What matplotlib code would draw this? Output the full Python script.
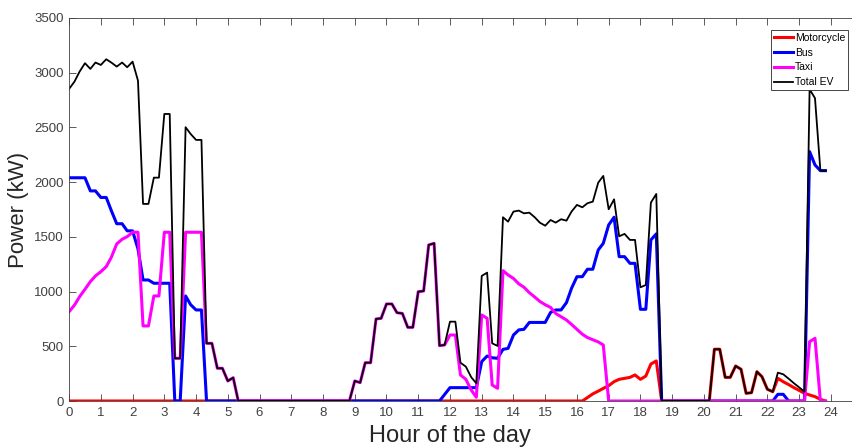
import matplotlib
matplotlib.use('Agg')
import matplotlib.pyplot as plt

# 10-minute samples (hour, kW)
moto_t = [0, 16.17, 16.5, 16.67, 16.83, 17.0, 17.17, 17.33, 17.5, 17.67, 17.83, 18.0, 18.17,
          18.33, 18.5, 18.67, 20.17, 20.33, 20.5, 20.67, 20.83, 21.0, 21.17, 21.33, 21.5,
          21.67, 21.83, 22.0, 22.17, 22.33, 22.5, 22.67, 22.83, 23.0, 23.17, 23.33, 23.5,
          23.67, 23.83]
moto_kw = [0, 0, 65, 90, 115, 140, 177, 198, 207, 216, 238, 198, 228,
           338, 366, 0, 0, 473, 473, 216, 216, 320, 290, 70, 76,
           268, 222, 107, 85, 207, 176, 150, 123, 97, 70, 55, 40,
           15, 0]

bus_t = [0, 0.5, 0.67, 0.83, 1.0, 1.17, 1.33, 1.5, 1.67, 1.83, 2.0, 2.17, 2.33, 2.5, 2.67,
         3.17, 3.33, 3.5, 3.67, 3.83, 4.0, 4.17, 4.33, 11.67, 12.0, 12.83, 13.0, 13.17,
         13.33, 13.5, 13.67, 13.83, 14.0, 14.17, 14.33, 14.5, 15.0, 15.17, 15.33, 15.5,
         15.67, 15.83, 16.0, 16.17, 16.33, 16.5, 16.67, 16.83, 17.0, 17.17, 17.33, 17.5,
         17.67, 17.83, 18.0, 18.17, 18.33, 18.5, 18.67, 22.17, 22.33, 22.5, 22.67, 23.17,
         23.33, 23.5, 23.67, 23.83]
bus_kw = [2040, 2040, 1920, 1920, 1860, 1860, 1740, 1620, 1620, 1555, 1555, 1390, 1106, 1106, 1076,
          1076, 0, 0, 960, 880, 832, 832, 0, 0, 122, 122, 360, 411,
          395, 390, 472, 481, 603, 650, 655, 718, 718, 810, 832, 832,
          899, 1030, 1136, 1136, 1204, 1204, 1380, 1441, 1609, 1679, 1319, 1319,
          1258, 1258, 838, 838, 1472, 1527, 0, 0, 61, 61, 0, 0,
          2279, 2157, 2105, 2105]

taxi_t = [0, 0.17, 0.33, 0.5, 0.67, 0.83, 1.0, 1.17, 1.33, 1.5, 1.67, 1.83, 2.0, 2.17, 2.33,
          2.5, 2.67, 2.83, 3.0, 3.17, 3.33, 3.5, 3.67, 4.17, 4.33, 4.5, 4.67, 4.83, 5.0,
          5.17, 5.33, 8.83, 9.0, 9.17, 9.33, 9.5, 9.67, 9.83, 10.0, 10.17, 10.33, 10.5,
          10.67, 10.83, 11.0, 11.17, 11.33, 11.5, 11.67, 11.83, 12.0, 12.17, 12.33, 12.5,
          12.67, 12.83, 13.0, 13.17, 13.33, 13.5, 13.67, 13.83, 14.0, 14.17, 14.33, 14.5,
          14.67, 14.83, 15.0, 15.17, 15.33, 15.5, 15.67, 15.83, 16.0, 16.17, 16.33, 16.5,
          16.67, 16.83, 17.0, 23.17, 23.33, 23.5, 23.67, 23.83]
taxi_kw = [816, 877, 953, 1021, 1091, 1143, 1182, 1228, 1313, 1435, 1478, 1502, 1542, 1542, 686,
           686, 960, 960, 1542, 1542, 390, 390, 1542, 1542, 527, 527, 299, 299, 183,
           213, 0, 0, 183, 168, 350, 350, 750, 755, 887, 887, 807, 800,
           673, 673, 999, 1005, 1426, 1441, 506, 512, 603, 603, 238, 198,
           100, 34, 786, 756, 146, 116, 1191, 1152, 1120, 1070, 1040, 990,
           950, 910, 880, 855, 800, 770, 740, 700, 655, 610, 580, 560,
           540, 512, 0, 0, 542, 573, 0, 0]

total_t = [0, 0.17, 0.33, 0.5, 0.67, 0.83, 1.0, 1.17, 1.33, 1.5, 1.67, 1.83, 2.0, 2.17, 2.33,
           2.5, 2.67, 2.83, 3.0, 3.17, 3.33, 3.5, 3.67, 3.83, 4.0, 4.17, 4.33, 4.5, 4.67,
           4.83, 5.0, 5.17, 5.33, 8.83, 9.0, 9.17, 9.33, 9.5, 9.67, 9.83, 10.0, 10.17,
           10.33, 10.5, 10.67, 10.83, 11.0, 11.17, 11.33, 11.5, 11.67, 11.83, 12.0, 12.17,
           12.33, 12.5, 12.67, 12.83, 13.0, 13.17, 13.33, 13.5, 13.67, 13.83, 14.0, 14.17,
           14.33, 14.5, 14.67, 14.83, 15.0, 15.17, 15.33, 15.5, 15.67, 15.83, 16.0, 16.17,
           16.33, 16.5, 16.67, 16.83, 17.0, 17.17, 17.33, 17.5, 17.67, 17.83, 18.0, 18.17,
           18.33, 18.5, 18.67, 20.17, 20.33, 20.5, 20.67, 20.83, 21.0, 21.17, 21.33, 21.5,
           21.67, 21.83, 22.0, 22.17, 22.33, 22.5, 22.67, 22.83, 23.0, 23.17, 23.33, 23.5,
           23.67, 23.83]
total_kw = [2852, 2919, 3010, 3087, 3035, 3093, 3071, 3123, 3093, 3056, 3093, 3050, 3101, 2928, 1801,
            1801, 2041, 2041, 2623, 2623, 390, 390, 2502, 2440, 2386, 2386, 527, 527, 299,
            299, 183, 213, 0, 0, 183, 168, 350, 350, 750, 755, 887, 887,
            807, 800, 673, 673, 999, 1005, 1426, 1441, 506, 512, 725, 725,
            350, 314, 217, 162, 1143, 1173, 527, 503, 1679, 1639, 1731, 1740,
            1715, 1721, 1679, 1630, 1602, 1654, 1630, 1661, 1648, 1731, 1792, 1770,
            1807, 1822, 1995, 2057, 1752, 1843, 1505, 1527, 1472, 1472, 1039, 1060,
            1813, 1892, 0, 0, 473, 473, 216, 216, 320, 290, 70, 76,
            268, 222, 107, 85, 259, 244, 204, 164, 125, 85, 2849, 2767,
            2105, 2105]

hour_ticks = list(range(0, 25))
power_ticks = list(range(0, 3501, 500))

plt.rcParams['font.family'] = ['Liberation Sans Narrow', 'Liberation Sans', 'DejaVu Sans']

fig = plt.figure(figsize=(8.53, 4.47), dpi=100)
ax = fig.add_axes([69.1 / 853, 1 - 401 / 447, 793.5 / 853, 383 / 447])

ax.plot(moto_t, moto_kw, color='#ff0000', lw=2.2, label='Motorcycle')
ax.plot(bus_t, bus_kw, color='#0000ff', lw=2.2, label='Bus')
ax.plot(taxi_t, taxi_kw, color='#ff00ff', lw=2.2, label='Taxi')
ax.plot(total_t, total_kw, color='black', lw=1.3, label='Total EV')

ax.set_xlim(0, 25)
ax.set_ylim(0, 3500)
ax.set_xticks(hour_ticks)
ax.set_yticks(power_ticks)
ax.tick_params(direction='in', length=5, width=0.6, colors='#404040',
               labelsize=9.5, top=True, right=True, pad=4)
for s in ax.spines.values():
    s.set_color('#404040')
    s.set_linewidth(0.6)

ax.set_xlabel('Hour of the day', fontsize=17, color='#262626')
ax.set_ylabel('Power (kW)', fontsize=16, color='#262626')
ax.xaxis.set_label_coords(0.48, -0.062)
ax.yaxis.set_label_coords(-0.05, 0.5)

leg = ax.legend(loc='upper left', bbox_to_anchor=(771 / 853, 1 - 30 / 447),
                bbox_transform=fig.transFigure, borderaxespad=0,
                frameon=True, fancybox=False, framealpha=1, edgecolor='#262626',
                labelspacing=0.45, handlelength=1.8, handletextpad=0.2, borderpad=0.3,
                prop={'family': ['Liberation Sans', 'DejaVu Sans'], 'size': 7.5})
leg.get_frame().set_linewidth(0.6)

fig.savefig('out.png', dpi=100)
